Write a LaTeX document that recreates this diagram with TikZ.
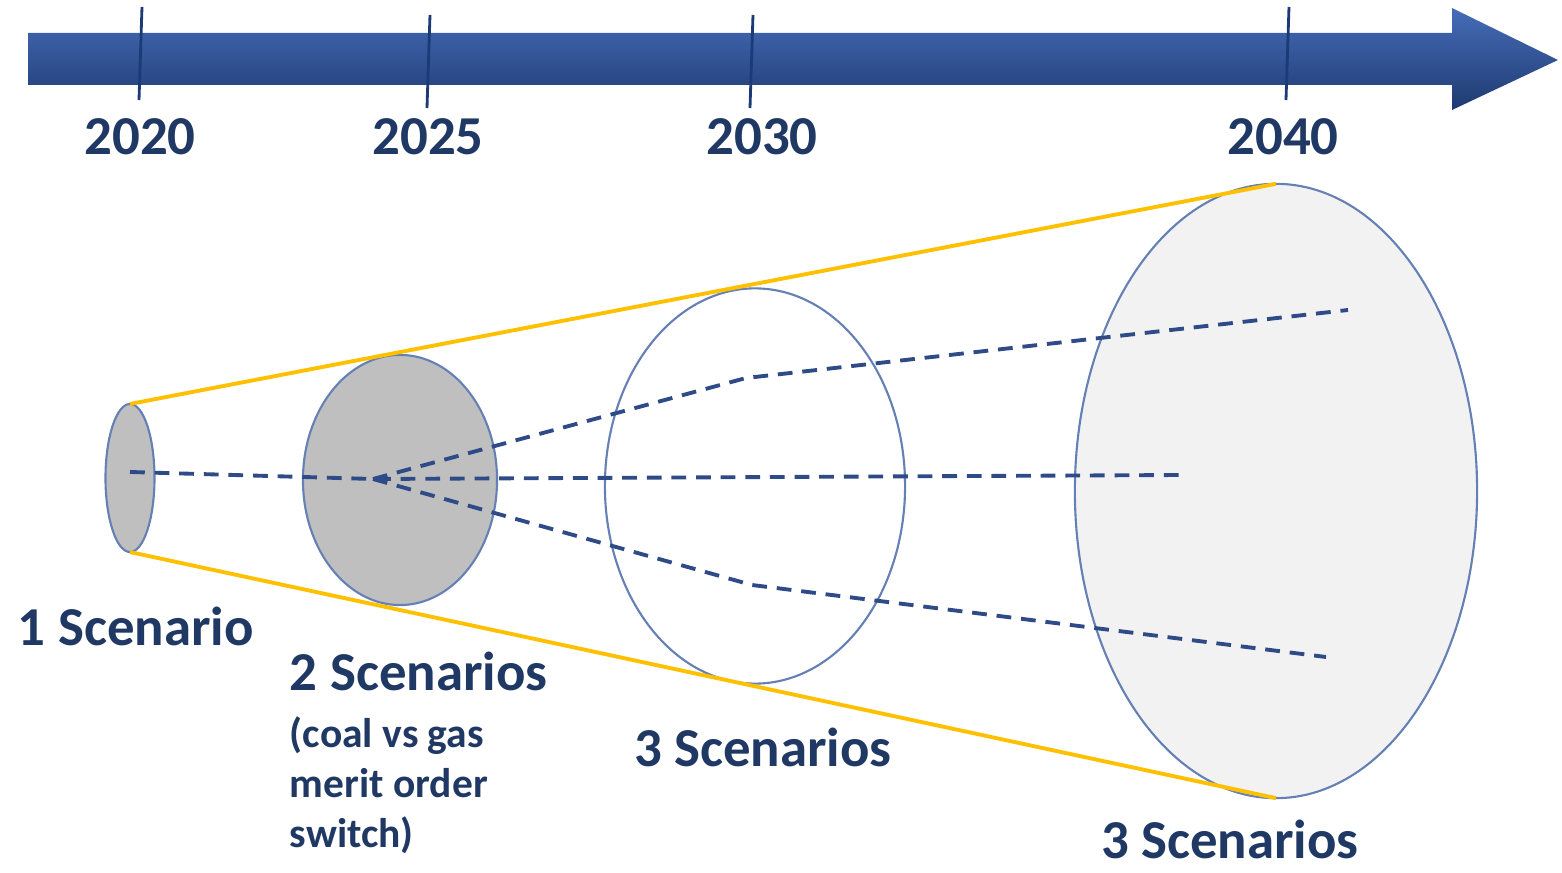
\documentclass[tikz,border=0pt]{standalone}
\usepackage{fontspec}
\setmainfont{Carlito}
\usetikzlibrary{shapes.geometric,positioning}
\definecolor{navy}{RGB}{31,56,100}
\definecolor{rim}{RGB}{100,128,180}
\definecolor{discgray}{RGB}{191,191,191}
\definecolor{disclight}{RGB}{242,242,242}
\definecolor{gold}{RGB}{255,192,0}
\definecolor{dashblue}{RGB}{47,75,135}
\definecolor{tickblue}{RGB}{28,58,118}

\begin{document}
\begin{tikzpicture}[x=0.01cm, y=-0.01cm,
  every node/.style={font=\bfseries\fontsize{15.6}{19}\selectfont, text=navy, inner sep=0pt, outer sep=0pt},
  disc/.style={draw=rim, line width=0.6pt, ellipse},
  cone/.style={draw=gold, line width=1.1pt},
  branch/.style={draw=dashblue, line width=1.1pt, dash pattern=on 4.2pt off 2.8pt},
  tick/.style={draw=tickblue, line width=0.8pt},
  note/.style={font=\bfseries\fontsize{11.8}{14.2}\selectfont, align=left}
]
\useasboundingbox (0,0) rectangle (1562,873);

% time axis
\shade[top color={rgb,255:red,70;green,108;blue,185}, middle color={rgb,255:red,40;green,78;blue,148},
  bottom color={rgb,255:red,30;green,58;blue,112}]
  (28,33) -- (1452,33) -- (1452,8) -- (1558,60) -- (1452,110) -- (1452,85) -- (28,85) -- cycle;
\foreach \x/\ya/\yb in {140/7/100, 428/15/108, 751/15/108, 1287/7/100}
  \draw[tick] (\x+2,\ya) -- (\x-1,\yb);
\foreach \yr/\x in {2020/140, 2025/428, 2030/762, 2040/1283}
  \node[anchor=base] (y\yr) at (\x,155) {\yr};

% scenario discs
\node[disc, fill=discgray, minimum width=0.49cm, minimum height=1.48cm] (d1) at (130,478) {};
\node[disc, fill=discgray, minimum width=1.94cm, minimum height=2.50cm] (d2) at (400,480) {};
\node[disc, fill=white, minimum width=3.00cm, minimum height=3.95cm] (d3) at (755,486) {};
\node[disc, fill=disclight, minimum width=4.02cm, minimum height=6.14cm] (d4) at (1276,491) {};

\draw[cone] (d1.north) -- (d4.north);
\draw[cone] (d1.south) -- (d4.south);

% scenario paths
\coordinate (start) at (130,472);
\coordinate (split) at (373,479);
\coordinate (upk) at (746,378);
\coordinate (upend) at (1348,310);
\coordinate (lok) at (752,585);
\coordinate (loend) at (1326,657);
\coordinate (midend) at (1182,475);
\draw[branch] (start) -- (split) -- (midend);
\draw[branch] (split) -- (upk) -- (upend);
\draw[branch] (split) -- (lok) -- (loend);

% labels
\node[anchor=base west] (s1) at (18,646) {1 Scenario};
\node[anchor=base west] (s2) at (290,691) {2 Scenarios};
\node[note, anchor=north west] (n2) at (290,717) {(coal vs gas\\merit order\\switch)};
\node[anchor=base west] (s3) at (634,767) {3 Scenarios};
\node[anchor=base west] (s4) at (1101,859) {3 Scenarios};
\end{tikzpicture}
\end{document}
